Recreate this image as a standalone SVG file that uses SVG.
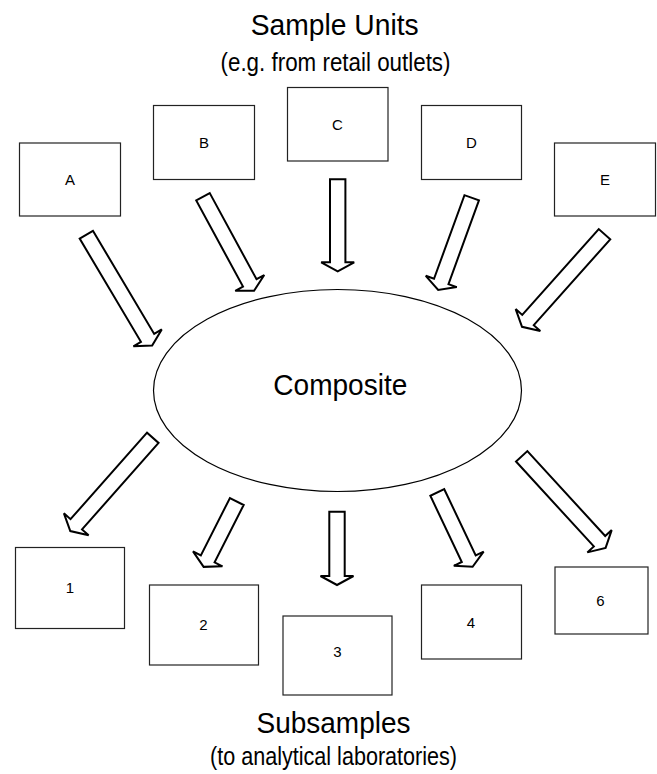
<svg xmlns="http://www.w3.org/2000/svg" width="657" height="774" viewBox="0 0 657 774">
<style>
  .box{fill:#fff;stroke:#222;stroke-width:1.2}
  .arr{fill:#fff;stroke:#000;stroke-width:2;stroke-linejoin:miter}
  .lbl{font-family:"Liberation Sans",Arial,sans-serif;font-size:15px;fill:#000;text-anchor:middle}
  .title{font-family:"Liberation Sans",Arial,sans-serif;font-size:30px;fill:#000;text-anchor:middle}
  .sub{font-family:"Liberation Sans",Arial,sans-serif;font-size:25px;fill:#000;text-anchor:middle}
</style>
<rect width="657" height="774" fill="#fff"/>
<text class="title" x="334.7" y="35" textLength="168" lengthAdjust="spacingAndGlyphs">Sample Units</text>
<text class="sub" x="335.5" y="71" textLength="230" lengthAdjust="spacingAndGlyphs">(e.g. from retail outlets)</text>
<text class="title" x="333.5" y="733" textLength="154" lengthAdjust="spacingAndGlyphs">Subsamples</text>
<text class="sub" x="333.5" y="765" textLength="247" lengthAdjust="spacingAndGlyphs">(to analytical laboratories)</text>

<g id="connectors">
  <path class="arr" transform="translate(86.3,234.7) rotate(59.3)" d="M0,-7.7 H120 V-16.5 L129,0 L120,16.5 V7.7 H0 Z"/>
  <path class="arr" transform="translate(203,196.8) rotate(61.5)" d="M0,-7.7 H98 V-16.5 L107,0 L98,16.5 V7.7 H0 Z"/>
  <path class="arr" transform="translate(337.7,179.3) rotate(90)" d="M0,-7.7 H83 V-16.5 L92,0 L83,16.5 V7.7 H0 Z"/>
  <path class="arr" transform="translate(471.7,197.8) rotate(110)" d="M0,-7.7 H89 V-16.5 L98,0 L89,16.5 V7.7 H0 Z"/>
  <path class="arr" transform="translate(604.5,234.2) rotate(131.7)" d="M0,-7.7 H115 V-16.5 L124,0 L115,16.5 V7.7 H0 Z"/>
  <path class="arr" transform="translate(152.8,437.8) rotate(131.5)" d="M0,-7.7 H115.5 V-16.5 L124.5,0 L115.5,16.5 V7.7 H0 Z"/>
  <path class="arr" transform="translate(236.8,501.5) rotate(116.9)" d="M0,-7.7 H64.3 V-16.5 L73.3,0 L64.3,16.5 V7.7 H0 Z"/>
  <path class="arr" transform="translate(337,511.7) rotate(90)" d="M0,-7.7 H64.3 V-16.5 L73.3,0 L64.3,16.5 V7.7 H0 Z"/>
  <path class="arr" transform="translate(437.3,492.5) rotate(64.6)" d="M0,-7.7 H73.3 V-16.5 L82.3,0 L73.3,16.5 V7.7 H0 Z"/>
  <path class="arr" transform="translate(521.7,456.3) rotate(47.5)" d="M0,-7.7 H115.2 V-16.5 L124.2,0 L115.2,16.5 V7.7 H0 Z"/>
</g>

<g id="composite">
  <ellipse cx="337.5" cy="390.5" rx="184" ry="101" fill="#fff" stroke="#000" stroke-width="1.2"/>
  <text class="title" x="340.3" y="395" textLength="134" lengthAdjust="spacingAndGlyphs">Composite</text>
</g>

<g id="nodeA"><rect class="box" x="19.5" y="143" width="101" height="73"/><text class="lbl" x="70" y="185">A</text></g>
<g id="nodeB"><rect class="box" x="153.5" y="105.5" width="101" height="74"/><text class="lbl" x="204" y="148">B</text></g>
<g id="nodeC"><rect class="box" x="287.5" y="87.5" width="100.5" height="73.5"/><text class="lbl" x="337.5" y="129.5">C</text></g>
<g id="nodeD"><rect class="box" x="421.5" y="105.5" width="100" height="74"/><text class="lbl" x="471.5" y="148">D</text></g>
<g id="nodeE"><rect class="box" x="554.5" y="143" width="101" height="73"/><text class="lbl" x="605" y="185">E</text></g>

<g id="node1"><rect class="box" x="15.5" y="547.5" width="109" height="81"/><text class="lbl" x="70" y="593">1</text></g>
<g id="node2"><rect class="box" x="149.5" y="585" width="109" height="80"/><text class="lbl" x="203.5" y="630">2</text></g>
<g id="node3"><rect class="box" x="283" y="616" width="109" height="79"/><text class="lbl" x="337.5" y="656.5">3</text></g>
<g id="node4"><rect class="box" x="421.5" y="585" width="100" height="74"/><text class="lbl" x="471" y="627.5">4</text></g>
<g id="node6"><rect class="box" x="555" y="567" width="93" height="67"/><text class="lbl" x="600.5" y="606">6</text></g>
</svg>
